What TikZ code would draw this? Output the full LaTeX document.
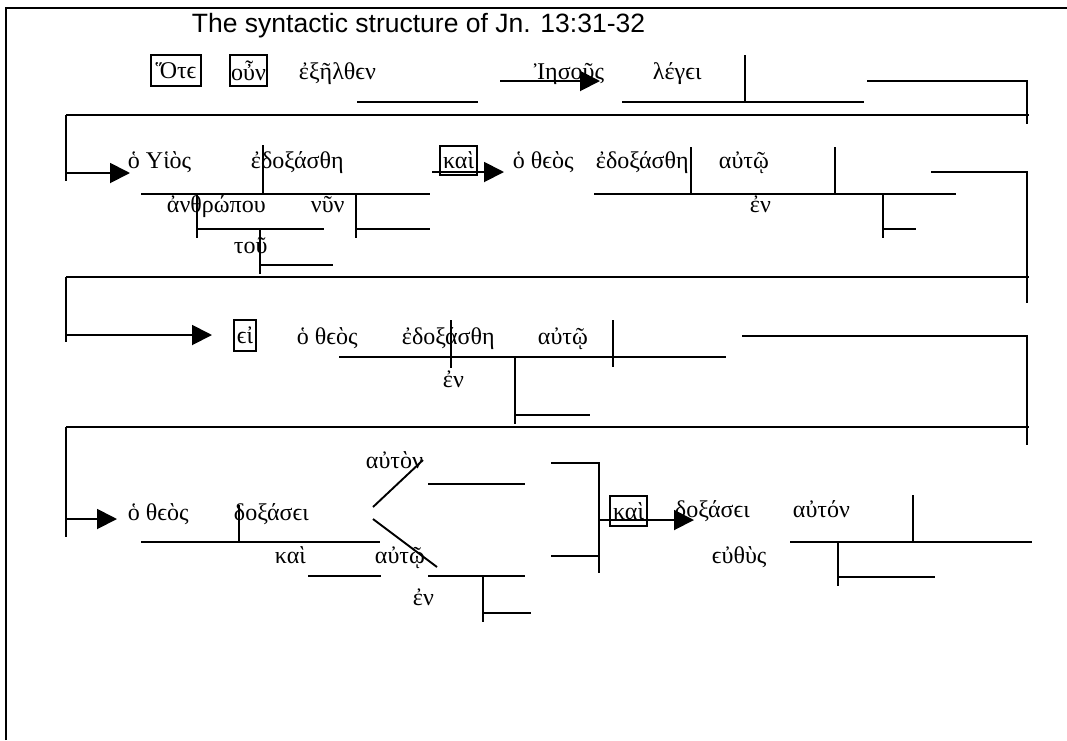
\documentclass[tikz,border=0pt]{standalone}
\usepackage{fontspec}
\setmainfont{Liberation Serif}
\newfontfamily\titlefont{Liberation Sans}
\usetikzlibrary{arrows.meta}

\begin{document}
\begin{tikzpicture}[x=1pt,y=-1pt,line width=1.9pt,
	word/.style={anchor=base west,inner sep=0pt,font=\fontsize{24}{28}\selectfont},
	wbox/.style={draw,inner sep=0pt,font=\fontsize{24}{28}\selectfont},
	pointer/.style={-{Triangle[length=20pt,width=20pt]}}]
		\useasboundingbox (0,0) rectangle (1067,740);
		\draw[line width=2.2pt](6,740) -- (6,8) -- (1067,8);
		\node[anchor=base west,inner sep=0pt,font=\titlefont\fontsize{26.5}{30}\selectfont] (title) at (191,32) {The syntactic structure of Jn. 13:31-32};
		\node[wbox,minimum width=50pt,minimum height=31pt] (hote) at (176,70.5) {Ὅτϵ};
		\node[wbox,minimum width=37pt,minimum height=31pt] (oun) at (248.5,70.5) {οὖν};
		\node[word] (exelthen) at (298,79) {ἐξῆλθϵν};
		\node[word] (iesous) at (533,79) {Ἰησοῦς};
		\node[word] (legei) at (652,79) {λέγϵι};
		\draw(357,102) -- (478,102);
		\draw[pointer](500,81) -- (600,81);
		\draw(745,55) -- (745,102);
		\draw(622,102) -- (864,102);
		\draw(867,81) -- (1027,81) -- (1027,124);
		\draw(66,115) -- (1029,115);
		\draw(66,115) -- (66,181);
		\draw[pointer](66,173) -- (130,173);
		\node[word] (huios) at (127,168) {ὁ Υἱὸς};
		\node[word] (edoxasthe) at (250,168) {ἐδοξάσθη};
		\node[word] (anthropou) at (166,212) {ἀνθρώπου};
		\node[word] (nun) at (310,212) {νῦν};
		\node[word] (tou) at (233,253) {τοῦ};
		\draw(263,145) -- (263,194);
		\draw(141,194) -- (430,194);
		\draw(197,194) -- (197,238);
		\draw(197,229) -- (324,229);
		\draw(356,194) -- (356,238);
		\draw(356,229) -- (430,229);
		\draw(260,230) -- (260,274);
		\draw(260,265) -- (333,265);
		\node[wbox,minimum width=37pt,minimum height=29pt] (kaiA) at (458.5,160.5) {καὶ};
		\draw[pointer](432,172) -- (504,172);
		\node[word] (theosA) at (512,168) {ὁ θϵὸς};
		\node[word] (edoxastheA) at (595,168) {ἐδοξάσθη};
		\node[word] (autoA) at (718,168) {αὐτῷ};
		\node[word] (enA) at (749,212) {ἐν};
		\draw(691,147) -- (691,194);
		\draw(835,147) -- (835,194);
		\draw(594,194) -- (956,194);
		\draw(883,194) -- (883,238);
		\draw(883,229) -- (916,229);
		\draw(931,172) -- (1027,172) -- (1027,303);
		\draw(66,277) -- (1029,277);
		\draw(66,277) -- (66,342);
		\draw[pointer](66,335) -- (212,335);
		\node[wbox,minimum width=22pt,minimum height=31pt] (ei) at (245,335.5) {ϵἰ};
		\node[word] (theosB) at (296,344) {ὁ θϵὸς};
		\node[word] (edoxastheB) at (401,344) {ἐδοξάσθη};
		\node[word] (autoB) at (537,344) {αὐτῷ};
		\node[word] (enB) at (442,387) {ἐν};
		\draw(451,320) -- (451,368);
		\draw(339,357) -- (726,357);
		\draw(515,357) -- (515,424);
		\draw(515,415) -- (590,415);
		\draw(613,320) -- (613,367);
		\draw(742,336) -- (1027,336) -- (1027,445);
		\draw(66,427) -- (1029,427);
		\draw(66,427) -- (66,537);
		\draw[pointer](66,519) -- (117,519);
		\node[word] (theosC) at (127,520) {ὁ θϵὸς};
		\node[word] (doxasei) at (233,520) {δοξάσϵι};
		\node[word] (auton) at (365,468) {αὐτὸν};
		\node[word] (kaiB) at (274,563) {καὶ};
		\node[word] (autoC) at (374,563) {αὐτῷ};
		\node[word] (enC) at (412,605) {ἐν};
		\draw(239,505) -- (239,542);
		\draw(141,542) -- (380,542);
		\draw(373,507) -- (423,460);
		\draw(373,519) -- (437,567);
		\draw(428,484) -- (525,484);
		\draw(428,576) -- (525,576);
		\draw(308,576) -- (381,576);
		\draw(483,576) -- (483,622);
		\draw(483,613) -- (531,613);
		\draw(551,463) -- (599,463) -- (599,573);
		\draw(551,556) -- (599,556);
		\node[wbox,minimum width=37pt,minimum height=30pt] (kaiC) at (628.5,511) {καὶ};
		\draw[pointer](599,520) -- (694,520);
		\node[word] (doxaseiB) at (674,517) {δοξάσϵι};
		\node[word] (autonB) at (792,517) {αὐτόν};
		\node[word] (euthus) at (711,563) {ϵὐθὺς};
		\draw(913,495) -- (913,542);
		\draw(790,542) -- (1032,542);
		\draw(838,542) -- (838,586);
		\draw(838,577) -- (935,577);
	\end{tikzpicture}
\end{document}
